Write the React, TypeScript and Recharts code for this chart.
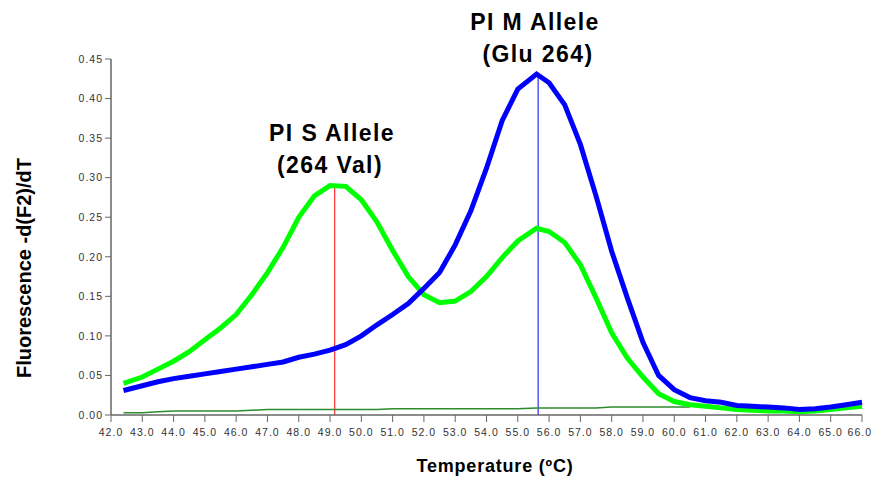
import React from 'react';
import {
  LineChart,
  Line,
  XAxis,
  YAxis,
  ReferenceLine,
} from 'recharts';

// ── Data ─────────────────────────────────────────────────────
const temps = [
  42.4, 43.0, 43.5, 44.0, 44.5, 45.0, 45.5, 46.0, 46.5, 47.0, 47.5, 48.0,
  48.5, 49.0, 49.5, 50.0, 50.5, 51.0, 51.5, 52.0, 52.5, 53.0, 53.5, 54.0,
  54.5, 55.0, 55.6, 56.0, 56.5, 57.0, 57.5, 58.0, 58.5, 59.0, 59.5, 60.0,
  60.5, 61.0, 61.5, 62.0, 62.5, 63.0, 63.5, 64.0, 64.5, 65.0, 65.5, 66.0,
];

// PI S / M heterozygote (two peaks)
const heteroValues = [
  0.040, 0.048, 0.058, 0.068, 0.080, 0.095, 0.110, 0.127, 0.152, 0.180, 0.212, 0.250,
  0.277, 0.290, 0.289, 0.272, 0.244, 0.208, 0.175, 0.152, 0.142, 0.144, 0.156, 0.175,
  0.199, 0.220, 0.236, 0.232, 0.218, 0.190, 0.148, 0.104, 0.072, 0.048, 0.027, 0.017,
  0.013, 0.011, 0.009, 0.007, 0.006, 0.005, 0.005, 0.004, 0.005, 0.007, 0.009, 0.011,
];

// PI M homozygote
const mValues = [
  0.031, 0.037, 0.042, 0.046, 0.049, 0.052, 0.055, 0.058, 0.061, 0.064, 0.067, 0.073,
  0.077, 0.082, 0.089, 0.100, 0.114, 0.127, 0.141, 0.160, 0.180, 0.215, 0.258, 0.312,
  0.372, 0.412, 0.431, 0.420, 0.392, 0.342, 0.277, 0.207, 0.148, 0.092, 0.050, 0.032,
  0.022, 0.018, 0.016, 0.012, 0.011, 0.010, 0.009, 0.007, 0.008, 0.010, 0.013, 0.016,
];

// no-template control
const blankValues = [
  0.003, 0.003, 0.004, 0.005, 0.005, 0.005, 0.005, 0.005, 0.006, 0.007, 0.007, 0.007,
  0.007, 0.007, 0.007, 0.007, 0.007, 0.008, 0.008, 0.008, 0.008, 0.008, 0.008, 0.008,
  0.008, 0.008, 0.009, 0.009, 0.009, 0.009, 0.009, 0.010, 0.010, 0.010, 0.010, 0.010,
  0.010, null, null, null, null, null, null, null, null, null, null, null,
];

const xTicks = [
  42, 43, 44, 45, 46, 47, 48, 49, 50, 51, 52, 53, 54,
  55, 56, 57, 58, 59, 60, 61, 62, 63, 64, 65, 66,
];
const yTicks = [0, 0.05, 0.1, 0.15, 0.2, 0.25, 0.3, 0.35, 0.4, 0.45];

const sPeak = { t: 49.15, v: 0.29 };
const mPeak = { t: 55.65, v: 0.431 };

const data = temps.map((t, i) => ({
  t,
  hetero: heteroValues[i],
  m: mValues[i],
  blank: blankValues[i],
}));

const FONT = 'Arial, "Liberation Sans", sans-serif';

// last label would run off the right edge, so pull it in a bit
function XTick(props: any) {
  const { x, y, payload } = props;
  const last = payload.value === xTicks[xTicks.length - 1];
  return (
    <text
      x={last ? x + 10 : x}
      y={y + 12}
      textAnchor={last ? 'end' : 'middle'}
      fill="#333"
      fontSize={10.5}
      fontFamily={FONT}
      letterSpacing={1}
    >
      {payload.value.toFixed(1)}
    </text>
  );
}

export default function App() {
  return (
    <div style={{ position: 'absolute', left: 0, top: 0, width: 872, height: 479, background: '#fff' }}>
      <LineChart
        width={872}
        height={479}
        data={data}
        margin={{ top: 59, right: 10, bottom: 34, left: 51 }}
      >
        <XAxis
          dataKey="t"
          type="number"
          domain={[42, 66]}
          ticks={xTicks}
          interval={0}
          tick={<XTick />}
          tickSize={7}
          height={30}
          axisLine={{ stroke: '#666', strokeWidth: 1.5 }}
          tickLine={{ stroke: '#666' }}
        />
        <YAxis
          type="number"
          domain={[0, 0.45]}
          ticks={yTicks}
          interval={0}
          tickFormatter={(v: number) => v.toFixed(2)}
          tick={{ fill: '#333', fontSize: 10.5, fontFamily: FONT, letterSpacing: 1 }}
          tickSize={6}
          width={60}
          axisLine={{ stroke: '#666', strokeWidth: 1.5 }}
          tickLine={{ stroke: '#666' }}
        />
        <ReferenceLine
          segment={[{ x: sPeak.t, y: 0 }, { x: sPeak.t, y: sPeak.v }]}
          stroke="#ff0000"
          strokeWidth={1}
        />
        <ReferenceLine
          segment={[{ x: mPeak.t, y: 0 }, { x: mPeak.t, y: mPeak.v }]}
          stroke="#0000ff"
          strokeWidth={1}
        />
        <Line
          dataKey="blank"
          type="linear"
          stroke="#2e8b2e"
          strokeWidth={1.5}
          dot={false}
          isAnimationActive={false}
        />
        <Line
          dataKey="hetero"
          type="linear"
          stroke="#00ff00"
          strokeWidth={5}
          dot={false}
          isAnimationActive={false}
        />
        <Line
          dataKey="m"
          type="linear"
          stroke="#0000ff"
          strokeWidth={5}
          dot={false}
          isAnimationActive={false}
        />
      </LineChart>
      {/* annotations and axis titles */}
      <svg
        width={872}
        height={479}
        style={{ position: 'absolute', left: 0, top: 0, pointerEvents: 'none' }}
      >
        <g fontFamily={FONT} fill="#000" textAnchor="middle">
          <text x={535} y={30} fontSize={23} fontWeight="bold" letterSpacing={1.4}>PI M Allele</text>
          <text x={538} y={62} fontSize={23} fontWeight="bold" letterSpacing={1.4}>(Glu 264)</text>
          <text x={332} y={141} fontSize={23} fontWeight="bold" letterSpacing={1.4}>PI S Allele</text>
          <text x={330} y={173} fontSize={23} fontWeight="bold" letterSpacing={1.4}>(264 Val)</text>
          <text x={495} y={472} fontSize={18} fontWeight="bold" letterSpacing={0.8}>
            Temperature (ºC)
          </text>
          <text
            x={31}
            y={268}
            fontSize={20}
            fontWeight="bold"
            transform="rotate(-90 31 268)"
          >
            Fluorescence -d(F2)/dT
          </text>
        </g>
      </svg>
    </div>
  );
}
